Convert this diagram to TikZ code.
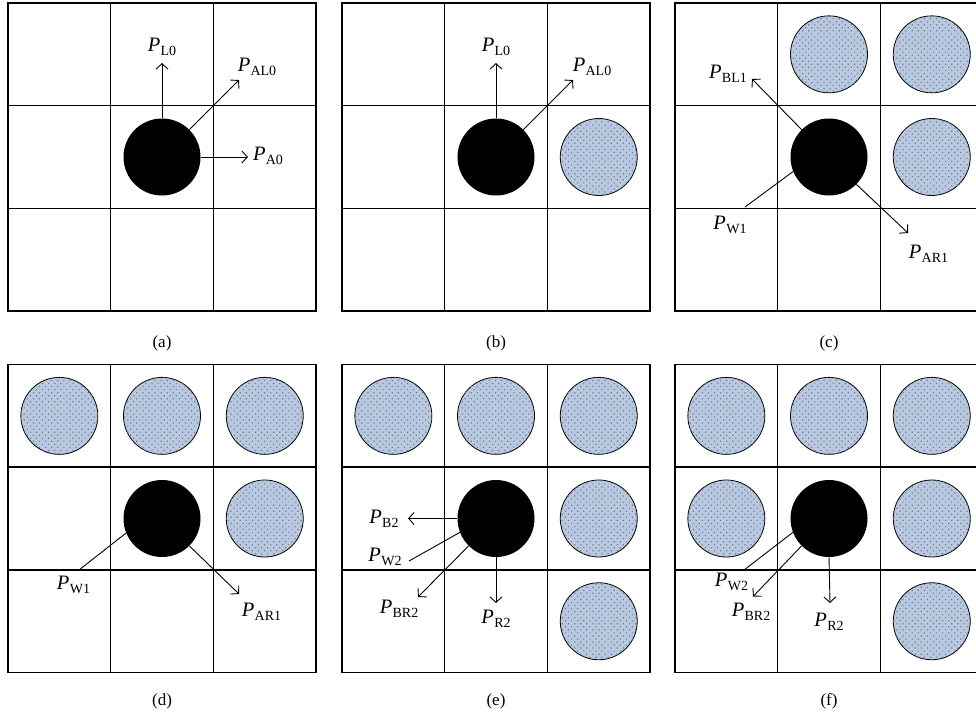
\documentclass[tikz,border=0pt]{standalone}
\usepackage{fontspec}
\setmainfont{Liberation Serif}
\usetikzlibrary{arrows.meta,patterns.meta}
\definecolor{ballblue}{RGB}{182,200,226}
\definecolor{dotgray}{RGB}{125,125,125}
\newcommand\Plab[1]{\textit{P}\kern0.3pt\raisebox{-4pt}{\fontsize{14}{14}\selectfont #1}}
\newcommand\cellgrid{%
  \draw[gridline] (0,0) rectangle (308,308);
  \foreach \k in {1,2} {
    \draw[gridline] (\k*102.67,0) -- (\k*102.67,308);
    \draw[gridline] (0,\k*102.67) -- (308,\k*102.67);
  }%
}
\tikzset{
  gridline/.style={line width=1.4pt, line cap=rect},
  robot/.style={circle, fill=black, minimum size=77pt, inner sep=0pt},
  obst/.style={circle, draw=black, line width=0.8pt, fill=ballblue, minimum size=77pt, inner sep=0pt,
    postaction={pattern={Dots[radius=0.85pt,distance=4.3pt,angle=45]}, pattern color=dotgray}},
  arr/.style={line width=0.9pt, -{Straight Barb[length=5.5pt,width=12pt]}},
  plainline/.style={line width=0.9pt},
  lab/.style={font=\fontsize{20.5}{22}\selectfont, inner sep=0pt},
  captext/.style={font=\fontsize{17}{19}\selectfont, inner sep=0pt}
}
\begin{document}
\begin{tikzpicture}[x=1pt,y=-1pt]
\useasboundingbox[fill=white] (0,0) rectangle (976,718);

% ---------- (a)
\begin{scope}[shift={(8,3)}]
  \cellgrid
  \node[robot] (ra) at (154,154) {};
  \coordinate (aL) at (154,60);
  \coordinate (aAL) at (231,77);
  \coordinate (aA) at (240,154);
  \draw[arr] (ra.north) -- (aL);
  \draw[arr] (ra.45) -- (aAL);
  \draw[arr] (ra.east) -- (aA);
  \node[lab] (laL) at (154,44) {\Plab{L0}};
  \node[lab] (laAL) at (249,64) {\Plab{AL0}};
  \node[lab] (laA) at (260,153) {\Plab{A0}};
  \node[captext] (capa) at (154,340) {(a)};
\end{scope}

% ---------- (b)
\begin{scope}[shift={(342,3)}]
  \cellgrid
  \node[robot] (rb) at (154,154) {};
  \node[obst] (ob1) at (256.75,154) {};
  \coordinate (bL) at (154,60);
  \coordinate (bAL) at (231,77);
  \draw[arr] (rb.north) -- (bL);
  \draw[arr] (rb.45) -- (bAL);
  \node[lab] (lbL) at (154,44) {\Plab{L0}};
  \node[lab] (lbAL) at (250,64) {\Plab{AL0}};
  \node[captext] (capb) at (154,340) {(b)};
\end{scope}

% ---------- (c)
\begin{scope}[shift={(675,3)}]
  \cellgrid
  \node[robot] (rc) at (154,154) {};
  \node[obst] (oc1) at (154,51.35) {};
  \node[obst] (oc2) at (256.75,51.35) {};
  \node[obst] (oc3) at (256.75,154) {};
  \coordinate (cBL) at (77,76);
  \coordinate (cW) at (70,204);
  \coordinate (cAR) at (233,230);
  \draw[arr] (rc.135) -- (cBL);
  \draw[plainline] (rc.202) -- (cW);
  \draw[arr] (rc.-45) -- (cAR);
  \node[lab] (lcBL) at (53,70.5) {\Plab{BL1}};
  \node[lab] (lcW) at (55,222) {\Plab{W1}};
  \node[lab] (lcAR) at (253.5,251) {\Plab{AR1}};
  \node[captext] (capc) at (154,340) {(c)};
\end{scope}

% ---------- (d)
\begin{scope}[shift={(8,364.5)}]
  \cellgrid
  \node[robot] (rd) at (154,154) {};
  \node[obst] (od1) at (51.35,51.35) {};
  \node[obst] (od2) at (154,51.35) {};
  \node[obst] (od3) at (256.75,51.35) {};
  \node[obst] (od4) at (256.75,154) {};
  \coordinate (dW) at (71,205.5);
  \coordinate (dAR) at (231,229.5);
  \draw[plainline] (rd.202) -- (dW);
  \draw[arr] (rd.-45) -- (dAR);
  \node[lab] (ldW) at (65.5,220.5) {\Plab{W1}};
  \node[lab] (ldAR) at (253.5,247.5) {\Plab{AR1}};
  \node[captext] (capd) at (154,337) {(d)};
\end{scope}

% ---------- (e)
\begin{scope}[shift={(342,364.5)}]
  \cellgrid
  \node[robot] (re) at (154,154) {};
  \node[obst] (oe1) at (51.35,51.35) {};
  \node[obst] (oe2) at (154,51.35) {};
  \node[obst] (oe3) at (256.75,51.35) {};
  \node[obst] (oe4) at (256.75,154) {};
  \node[obst] (oe5) at (256.75,256.75) {};
  \coordinate (eB) at (66,154);
  \coordinate (eW) at (67,196.5);
  \coordinate (eBR) at (76,232.5);
  \coordinate (eR) at (154,238.5);
  \draw[arr] (re.west) -- (eB);
  \draw[plainline] (re.201) -- (eW);
  \draw[arr] (re.225) -- (eBR);
  \draw[arr] (re.south) -- (eR);
  \node[lab] (leB) at (42,154.5) {\Plab{B2}};
  \node[lab] (leW) at (43,192) {\Plab{W2}};
  \node[lab] (leBR) at (57,244.5) {\Plab{BR2}};
  \node[lab] (leR) at (154,254.5) {\Plab{R2}};
  \node[captext] (cape) at (154,337) {(e)};
\end{scope}

% ---------- (f)
\begin{scope}[shift={(675,364.5)}]
  \cellgrid
  \node[robot] (rf) at (154,154) {};
  \node[obst] (of1) at (51.35,51.35) {};
  \node[obst] (of2) at (154,51.35) {};
  \node[obst] (of3) at (256.75,51.35) {};
  \node[obst] (of4) at (51.35,154) {};
  \node[obst] (of5) at (256.75,154) {};
  \node[obst] (of6) at (256.75,256.75) {};
  \coordinate (fW) at (69,205.5);
  \coordinate (fBR) at (78,232);
  \coordinate (fR) at (155,238.5);
  \draw[plainline] (rf.201) -- (fW);
  \draw[arr] (rf.225) -- (fBR);
  \draw[arr] (rf.south) -- (fR);
  \node[lab] (lfW) at (56.5,217) {\Plab{W2}};
  \node[lab] (lfBR) at (76,247) {\Plab{BR2}};
  \node[lab] (lfR) at (154,257) {\Plab{R2}};
  \node[captext] (capf) at (154,337) {(f)};
\end{scope}
\end{tikzpicture}
\end{document}
